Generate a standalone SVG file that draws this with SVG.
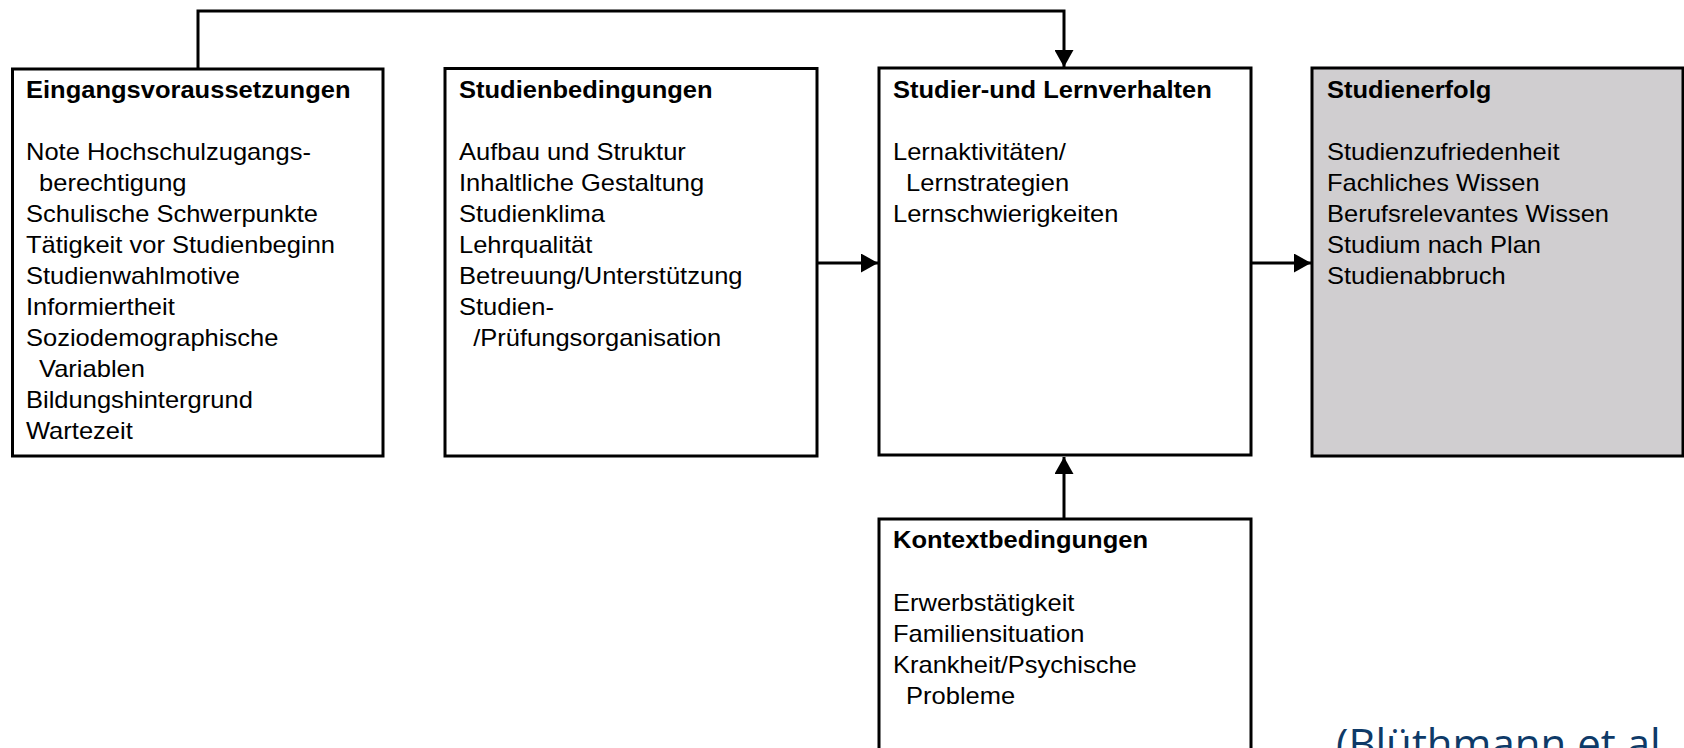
<svg xmlns="http://www.w3.org/2000/svg" width="1684" height="748" viewBox="0 0 1684 748">
<style>
  .box { fill: #ffffff; stroke: #000000; stroke-width: 3; }
  .box.gray { fill: #d0ced0; }
  .t { font-family: "Liberation Sans", Arial, sans-serif; font-size: 23.4px; fill: #000000; }
  .h { font-weight: bold; }
  .conn { fill: none; stroke: #000000; stroke-width: 3; marker-end: url(#arrow); }
  .cite { font-family: "Open Sans", "Noto Sans", sans-serif; font-size: 42px; fill: #0e3a68; }
</style>
<defs>
  <marker id="arrow" markerUnits="userSpaceOnUse" markerWidth="18" markerHeight="19" refX="17" refY="9.5" orient="auto" viewBox="0 0 18 19">
    <path d="M0,0 L17,9.5 L0,19 z" fill="#000000"/>
  </marker>
</defs>
<rect width="1684" height="748" fill="#ffffff"/>

<g id="connectors">
  <path class="conn" d="M198,69 V11 H1064 V67"/>
  <path class="conn" d="M817,263 H878"/>
  <path class="conn" d="M1251,263 H1311"/>
  <path class="conn" d="M1064,518 V457"/>
</g>

<g id="eingangsvoraussetzungen">
  <rect class="box" x="12.5" y="69" width="370.5" height="387"/>
  <g transform="translate(26 0) scale(1.09 1)">
    <text class="t h" x="0" y="98">Eingangsvoraussetzungen</text>
    <text class="t" x="0" y="160">Note Hochschulzugangs-</text>
    <text class="t" x="12" y="191">berechtigung</text>
    <text class="t" x="0" y="222">Schulische Schwerpunkte</text>
    <text class="t" x="0" y="253">Tätigkeit vor Studienbeginn</text>
    <text class="t" x="0" y="284">Studienwahlmotive</text>
    <text class="t" x="0" y="315">Informiertheit</text>
    <text class="t" x="0" y="346">Soziodemographische</text>
    <text class="t" x="12" y="377">Variablen</text>
    <text class="t" x="0" y="408">Bildungshintergrund</text>
    <text class="t" x="0" y="439">Wartezeit</text>
  </g>
</g>

<g id="studienbedingungen">
  <rect class="box" x="445" y="68.5" width="372" height="387.5"/>
  <g transform="translate(459 0) scale(1.09 1)">
    <text class="t h" x="0" y="98">Studienbedingungen</text>
    <text class="t" x="0" y="160">Aufbau und Struktur</text>
    <text class="t" x="0" y="191">Inhaltliche Gestaltung</text>
    <text class="t" x="0" y="222">Studienklima</text>
    <text class="t" x="0" y="253">Lehrqualität</text>
    <text class="t" x="0" y="284">Betreuung/Unterstützung</text>
    <text class="t" x="0" y="315">Studien-</text>
    <text class="t" x="13" y="346">/Prüfungsorganisation</text>
  </g>
</g>

<g id="studierverhalten">
  <rect class="box" x="879" y="68" width="372" height="387"/>
  <g transform="translate(893 0) scale(1.09 1)">
    <text class="t h" x="0" y="98">Studier-und Lernverhalten</text>
    <text class="t" x="0" y="160">Lernaktivitäten/</text>
    <text class="t" x="12" y="191">Lernstrategien</text>
    <text class="t" x="0" y="222">Lernschwierigkeiten</text>
  </g>
</g>

<g id="studienerfolg">
  <rect class="box gray" x="1312" y="68" width="371" height="388"/>
  <g transform="translate(1327 0) scale(1.09 1)">
    <text class="t h" x="0" y="98">Studienerfolg</text>
    <text class="t" x="0" y="160">Studienzufriedenheit</text>
    <text class="t" x="0" y="191">Fachliches Wissen</text>
    <text class="t" x="0" y="222">Berufsrelevantes Wissen</text>
    <text class="t" x="0" y="253">Studium nach Plan</text>
    <text class="t" x="0" y="284">Studienabbruch</text>
  </g>
</g>

<g id="kontextbedingungen">
  <rect class="box" x="879" y="519" width="372" height="260"/>
  <g transform="translate(893 0) scale(1.09 1)">
    <text class="t h" x="0" y="548">Kontextbedingungen</text>
    <text class="t" x="0" y="611">Erwerbstätigkeit</text>
    <text class="t" x="0" y="642">Familiensituation</text>
    <text class="t" x="0" y="673">Krankheit/Psychische</text>
    <text class="t" x="12" y="704">Probleme</text>
  </g>
</g>

<g id="citation">
  <text class="cite" x="1336" y="759">(Blüthmann et al</text>
</g>
</svg>
